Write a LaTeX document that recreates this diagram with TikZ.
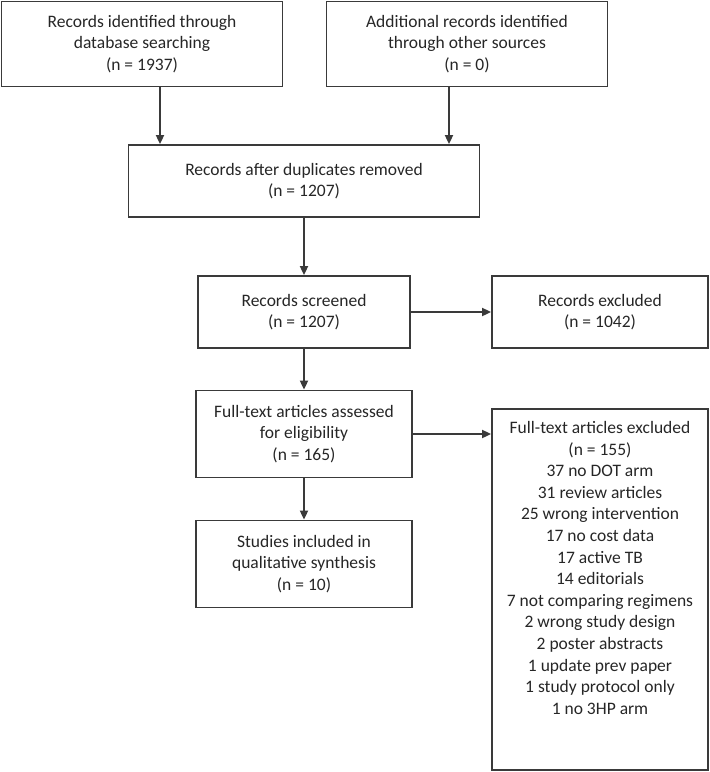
\documentclass[tikz,border=0pt]{standalone}
\usepackage{fontspec}
\setmainfont{Carlito}
\usetikzlibrary{arrows.meta}
\definecolor{linec}{HTML}{3A3A3A}
\definecolor{textc}{HTML}{262626}
\begin{document}
\begin{tikzpicture}[x=1pt,y=-1pt,
  box/.style={draw=linec, line width=1.8pt, rectangle, inner sep=0pt, align=center,
    text=textc, font=\fontsize{17.5}{21.6}\selectfont},
  arr/.style={draw=linec, line width=1.8pt, -{Triangle[length=9pt,width=8pt]}}]
\useasboundingbox (0,0) rectangle (710,772);
\node[box, minimum width=281pt, minimum height=85pt] (b1) at (142,44)
  {Records identified through\\database searching\\(n = 1937)};
\node[box, minimum width=281pt, minimum height=85pt] (b2) at (467,44)
  {Additional records identified\\through other sources\\(n = 0)};
\node[box, minimum width=351pt, minimum height=72pt] (b3) at (304,181)
  {Records after duplicates removed\\(n = 1207)};
\node[box, minimum width=212pt, minimum height=72pt] (b4) at (304,312)
  {Records screened\\(n = 1207)};
\node[box, minimum width=216pt, minimum height=72pt] (b5) at (600,312)
  {Records excluded\\(n = 1042)};
\node[box, minimum width=216pt, minimum height=87pt] (b6) at (304,434)
  {Full-text articles assessed\\for eligibility\\(n = 165)};
\node[box, minimum width=216pt, minimum height=87pt] (b7) at (304,564)
  {Studies included in\\qualitative synthesis\\(n = 10)};
\node[box, minimum width=216pt, minimum height=361pt] (b8) at (600,589.5) {};
\node[align=center, inner sep=0pt, anchor=north, text=textc,
  font=\fontsize{17.5}{21.6}\selectfont] (b8t) at ([yshift=-13pt]b8.north)
  {Full-text articles excluded\\(n = 155)\\37 no DOT arm\\31 review articles\\25 wrong intervention\\17 no cost data\\17 active TB\\14 editorials\\7 not comparing regimens\\2 wrong study design\\2 poster abstracts\\1 update prev paper\\1 study protocol only\\1 no 3HP arm};
\coordinate (c1) at (160,0);
\coordinate (c2) at (449,0);
\draw[arr] (b1.south -| c1) -- (b3.north -| c1);
\draw[arr] (b2.south -| c2) -- (b3.north -| c2);
\draw[arr] (b3.south) -- (b4.north);
\draw[arr] (b4.east) -- (b5.west);
\draw[arr] (b4.south) -- (b6.north);
\draw[arr] (b6.east) -- (b6.east -| b8.west);
\draw[arr] (b6.south) -- (b7.north);
\end{tikzpicture}
\end{document}
